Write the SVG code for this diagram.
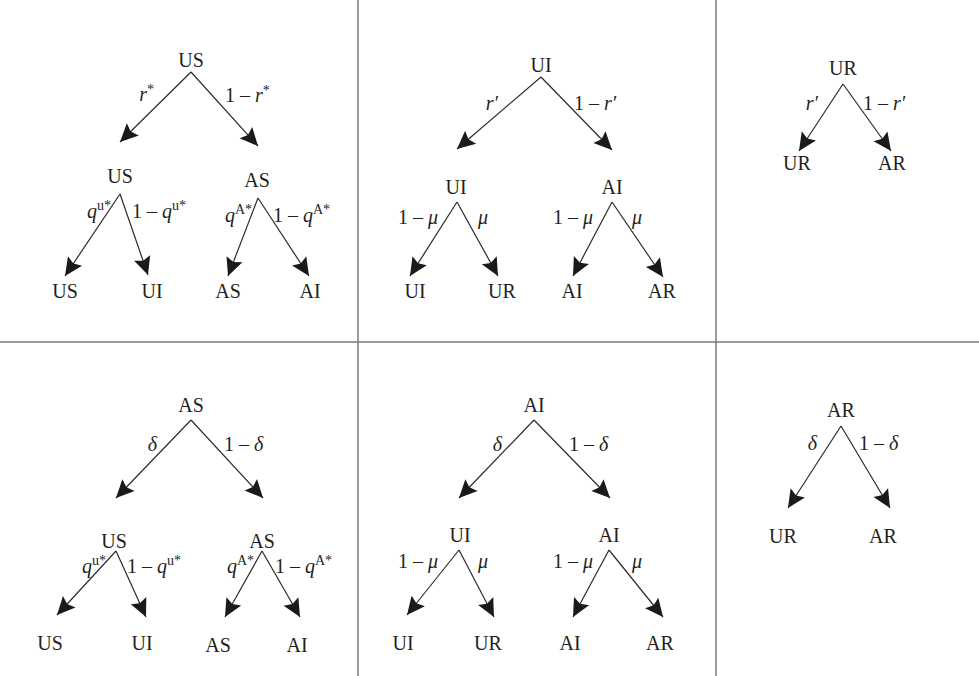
<svg xmlns="http://www.w3.org/2000/svg" width="979" height="676" viewBox="0 0 979 676">
<style>
text{font-family:"Liberation Serif","DejaVu Serif",serif;font-size:20px;fill:#231f20}
.n{text-anchor:middle}
.e{text-anchor:end}
.i{font-style:italic}
.sup{font-size:14px;font-style:normal}
.edge{stroke:#2b2b2b;stroke-width:1.2;fill:none;marker-end:url(#ah)}
.div{stroke:#7a7a7a;stroke-width:1.5}
</style>
<defs>
<marker id="ah" markerUnits="userSpaceOnUse" viewBox="-20 -10 22 20" markerWidth="22" markerHeight="20" refX="0" refY="0" orient="auto">
<path d="M0,0 L-18,-8.5 L-15,0 L-18,8.5 Z" fill="#1a1a1a"/>
</marker>
</defs>
<g id="dividers">
<line class="div" x1="0" y1="342" x2="979" y2="342"/>
<line class="div" x1="358" y1="0" x2="358" y2="676"/>
<line class="div" x1="716" y1="0" x2="716" y2="676"/>
</g>
<g id="connectors">
<line class="edge" x1="191" y1="72" x2="120" y2="142"/>
<line class="edge" x1="191" y1="72" x2="258" y2="146"/>
<line class="edge" x1="120" y1="194" x2="65" y2="276"/>
<line class="edge" x1="120" y1="194" x2="148" y2="275"/>
<line class="edge" x1="258" y1="198" x2="228" y2="276"/>
<line class="edge" x1="258" y1="198" x2="309" y2="276"/>
<line class="edge" x1="541" y1="77" x2="457" y2="149"/>
<line class="edge" x1="541" y1="77" x2="612" y2="150"/>
<line class="edge" x1="457" y1="202" x2="410" y2="276"/>
<line class="edge" x1="457" y1="202" x2="498" y2="276"/>
<line class="edge" x1="612" y1="202" x2="573" y2="276"/>
<line class="edge" x1="612" y1="202" x2="663" y2="277"/>
<line class="edge" x1="843" y1="84" x2="799" y2="151"/>
<line class="edge" x1="843" y1="84" x2="891" y2="151"/>
<line class="edge" x1="191" y1="420" x2="116" y2="498"/>
<line class="edge" x1="191" y1="420" x2="263" y2="498"/>
<line class="edge" x1="116" y1="551" x2="57" y2="615"/>
<line class="edge" x1="116" y1="551" x2="146" y2="617"/>
<line class="edge" x1="262" y1="551" x2="225" y2="617"/>
<line class="edge" x1="262" y1="551" x2="300" y2="617"/>
<line class="edge" x1="534" y1="420" x2="459" y2="498"/>
<line class="edge" x1="534" y1="420" x2="610" y2="498"/>
<line class="edge" x1="459" y1="550" x2="407" y2="615"/>
<line class="edge" x1="459" y1="550" x2="494" y2="617"/>
<line class="edge" x1="609" y1="550" x2="573" y2="617"/>
<line class="edge" x1="609" y1="550" x2="663" y2="617"/>
<line class="edge" x1="841" y1="426" x2="788" y2="508"/>
<line class="edge" x1="841" y1="426" x2="890" y2="508"/>
</g>
<g id="edge-labels">
<text class="e" x="154" y="101"><tspan class="i">r</tspan><tspan class="sup" dy="-7">*</tspan></text>
<text x="225" y="102">1 – <tspan class="i">r</tspan><tspan class="sup" dy="-7">*</tspan></text>
<text class="e" x="111" y="218"><tspan class="i">q</tspan><tspan class="sup" dy="-8">u*</tspan></text>
<text x="132" y="218">1 – <tspan class="i">q</tspan><tspan class="sup" dy="-8">u*</tspan></text>
<text class="e" x="252" y="222"><tspan class="i">q</tspan><tspan class="sup" dy="-8">A*</tspan></text>
<text x="273" y="222">1 – <tspan class="i">q</tspan><tspan class="sup" dy="-8">A*</tspan></text>
<text class="e" x="498" y="110"><tspan class="i">r′</tspan></text>
<text x="574" y="110">1 – <tspan class="i">r′</tspan></text>
<text class="e" x="438" y="224">1 – <tspan class="i">μ</tspan></text>
<text x="478" y="224" class="i">μ</text>
<text class="e" x="593" y="224">1 – <tspan class="i">μ</tspan></text>
<text x="632" y="224" class="i">μ</text>
<text class="e" x="818" y="110"><tspan class="i">r′</tspan></text>
<text x="863" y="110">1 – <tspan class="i">r′</tspan></text>
<text class="e" x="157" y="451"><tspan class="i">δ</tspan></text>
<text x="224" y="451">1 – <tspan class="i">δ</tspan></text>
<text class="e" x="106" y="573"><tspan class="i">q</tspan><tspan class="sup" dy="-8">u*</tspan></text>
<text x="127" y="573">1 – <tspan class="i">q</tspan><tspan class="sup" dy="-8">u*</tspan></text>
<text class="e" x="254" y="573"><tspan class="i">q</tspan><tspan class="sup" dy="-8">A*</tspan></text>
<text x="275" y="573">1 – <tspan class="i">q</tspan><tspan class="sup" dy="-8">A*</tspan></text>
<text class="e" x="502" y="451"><tspan class="i">δ</tspan></text>
<text x="569" y="451">1 – <tspan class="i">δ</tspan></text>
<text class="e" x="438" y="568">1 – <tspan class="i">μ</tspan></text>
<text x="478" y="568" class="i">μ</text>
<text class="e" x="593" y="568">1 – <tspan class="i">μ</tspan></text>
<text x="632" y="568" class="i">μ</text>
<text class="e" x="817" y="450"><tspan class="i">δ</tspan></text>
<text x="859" y="450">1 – <tspan class="i">δ</tspan></text>
</g>
<g id="p1-root"><text class="n" x="191" y="67">US</text></g>
<g id="p1-us"><text class="n" x="120" y="183">US</text></g>
<g id="p1-as"><text class="n" x="257" y="187">AS</text></g>
<g id="p1-leaf-us"><text class="n" x="65" y="298">US</text></g>
<g id="p1-leaf-ui"><text class="n" x="152" y="298">UI</text></g>
<g id="p1-leaf-as"><text class="n" x="228" y="298">AS</text></g>
<g id="p1-leaf-ai"><text class="n" x="310" y="298">AI</text></g>
<g id="p2-root"><text class="n" x="541" y="72">UI</text></g>
<g id="p2-ui"><text class="n" x="456" y="194">UI</text></g>
<g id="p2-ai"><text class="n" x="612" y="194">AI</text></g>
<g id="p2-leaf-ui"><text class="n" x="415" y="298">UI</text></g>
<g id="p2-leaf-ur"><text class="n" x="502" y="298">UR</text></g>
<g id="p2-leaf-ai"><text class="n" x="572" y="298">AI</text></g>
<g id="p2-leaf-ar"><text class="n" x="662" y="298">AR</text></g>
<g id="p3-root"><text class="n" x="843" y="75">UR</text></g>
<g id="p3-leaf-ur"><text class="n" x="797" y="170">UR</text></g>
<g id="p3-leaf-ar"><text class="n" x="892" y="170">AR</text></g>
<g id="p4-root"><text class="n" x="191" y="412">AS</text></g>
<g id="p4-us"><text class="n" x="114" y="548">US</text></g>
<g id="p4-as"><text class="n" x="262" y="548">AS</text></g>
<g id="p4-leaf-us"><text class="n" x="50" y="650">US</text></g>
<g id="p4-leaf-ui"><text class="n" x="142" y="650">UI</text></g>
<g id="p4-leaf-as"><text class="n" x="218" y="652">AS</text></g>
<g id="p4-leaf-ai"><text class="n" x="297" y="652">AI</text></g>
<g id="p5-root"><text class="n" x="534" y="412">AI</text></g>
<g id="p5-ui"><text class="n" x="460" y="542">UI</text></g>
<g id="p5-ai"><text class="n" x="609" y="542">AI</text></g>
<g id="p5-leaf-ui"><text class="n" x="403" y="650">UI</text></g>
<g id="p5-leaf-ur"><text class="n" x="488" y="650">UR</text></g>
<g id="p5-leaf-ai"><text class="n" x="570" y="650">AI</text></g>
<g id="p5-leaf-ar"><text class="n" x="660" y="650">AR</text></g>
<g id="p6-root"><text class="n" x="841" y="417">AR</text></g>
<g id="p6-leaf-ur"><text class="n" x="783" y="543">UR</text></g>
<g id="p6-leaf-ar"><text class="n" x="883" y="543">AR</text></g>
</svg>
